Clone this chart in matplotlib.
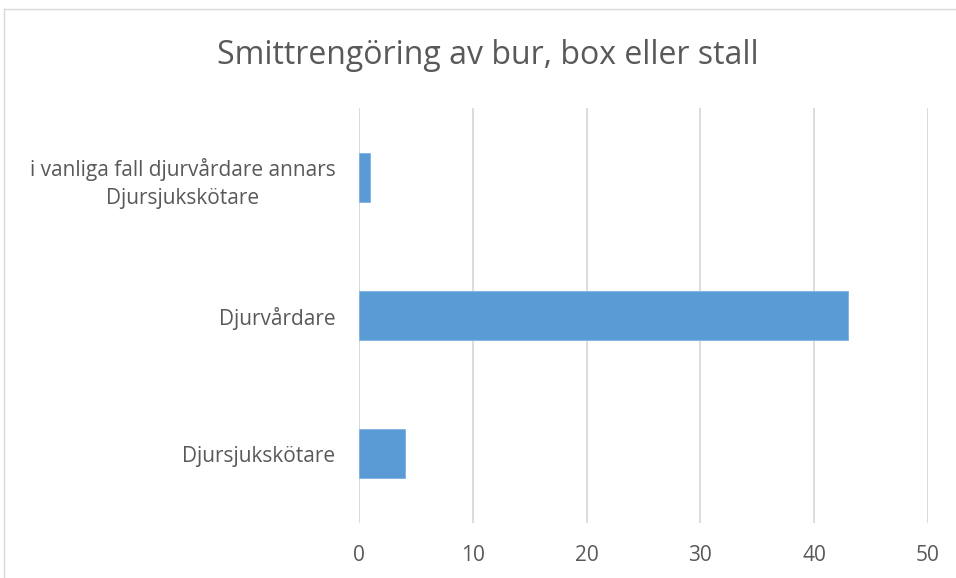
import matplotlib
matplotlib.use("Agg")
import matplotlib.pyplot as plt
from matplotlib.lines import Line2D

categories = ["Djursjukskötare", "Djurvårdare",
              "i vanliga fall djurvårdare annars\nDjursjukskötare"]
values = [4, 43, 1]
xticks = [0, 10, 20, 30, 40, 50]
title = "Smittrengöring av bur, box eller stall"

plt.rcParams["font.family"] = ["Open Sans", "DejaVu Sans"]

W, H = 956, 578
fig = plt.figure(figsize=(W / 100, H / 100), dpi=100)
ax = fig.add_axes([359 / W, 1 - 523 / H, (928 - 359) / W, (523 - 108) / H])

ax.barh(range(len(categories)), values, height=0.355, color="#5b9bd5",
        edgecolor="#7fb2e0", linewidth=0.6, zorder=3)
ax.set_ylim(-0.5, len(categories) - 0.5)
ax.set_xlim(0, 50)
ax.set_xticks(xticks)
ax.set_yticks(range(len(categories)))
ax.set_yticklabels(categories, fontsize=15, color="#595959", linespacing=1.45,
                   multialignment="center")
ax.tick_params(axis="x", labelsize=15, labelcolor="#595959", length=0, pad=16)
ax.tick_params(axis="y", length=0, pad=17)
ax.xaxis.grid(True, color="#d9d9d9", linewidth=1.3, zorder=0)
for s in ax.spines.values():
    s.set_visible(False)

fig.text(488 / W, 1 - 55 / H, title, ha="center", va="center",
         fontsize=23, color="#595959")

# chart border
fig.add_artist(Line2D([4 / W, 4 / W], [0, 1 - 9 / H], color="#d9d9d9", lw=1))
fig.add_artist(Line2D([4 / W, 1], [1 - 9 / H, 1 - 9 / H], color="#d9d9d9", lw=1))

fig.savefig("out.png", dpi=100)
